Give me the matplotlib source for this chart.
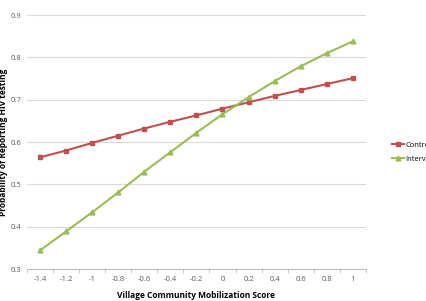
import numpy as np
import matplotlib
matplotlib.use("Agg")
import matplotlib.pyplot as plt

scores = ["-1.4", "-1.2", "-1", "-0.8", "-0.6", "-0.4", "-0.2", "0", "0.2", "0.4", "0.6", "0.8", "1"]
control = [0.564, 0.580, 0.598, 0.615, 0.632, 0.648, 0.663, 0.679, 0.694, 0.709, 0.723, 0.737, 0.751]
intervention = [0.344, 0.389, 0.434, 0.481, 0.530, 0.576, 0.622, 0.666, 0.706, 0.744, 0.779, 0.810, 0.838]

plt.rcParams['font.family'] = ['Open Sans', 'DejaVu Sans']

fig = plt.figure(figsize=(4.27, 3.01), dpi=100)
ax = fig.add_axes([0.063, 0.106, 0.794, 0.844])

x = np.arange(len(scores))
ax.plot(x, control, color='#C0504D', marker='s', markersize=3.5, linewidth=1.5, label='Control')
ax.plot(x, intervention, color='#9BBB59', marker='^', markersize=3.5, linewidth=1.5, label='Intervention')

ax.set_xlim(-0.5, len(scores) - 0.5)
ax.set_ylim(0.3, 0.9)
ax.set_yticks(np.arange(0.3, 0.91, 0.1))
ax.set_yticklabels([f"{v:.1f}" for v in np.arange(0.3, 0.91, 0.1)])
ax.set_xticks(x)
ax.set_xticklabels(scores)
ax.set_xticks(np.arange(-0.5, len(scores), 1), minor=True)
ax.tick_params(axis='x', which='major', length=0, labelsize=5.5, colors='#595959', pad=5)
ax.tick_params(axis='x', which='minor', length=3, color='#BFBFBF')
ax.tick_params(axis='y', length=0, labelsize=5.5, colors='#595959', pad=4)
ax.grid(axis='y', color='#D9D9D9', linewidth=0.8)
ax.set_axisbelow(True)
for s in ['top', 'right', 'left']:
    ax.spines[s].set_visible(False)
ax.spines['bottom'].set_color('#BFBFBF')

ax.set_xlabel('Village Community Mobilization Score', fontsize=6, fontweight='bold', labelpad=6)
ax.set_ylabel('Probability of Reporting HIV testing', fontsize=6, fontweight='bold', labelpad=2)

fig.legend(loc='upper left', bbox_to_anchor=(0.91, 0.54), frameon=False, fontsize=5.5,
           handlelength=1.6, handletextpad=0.2, labelspacing=0.9, borderaxespad=0)

fig.savefig('out.png', dpi=100)
